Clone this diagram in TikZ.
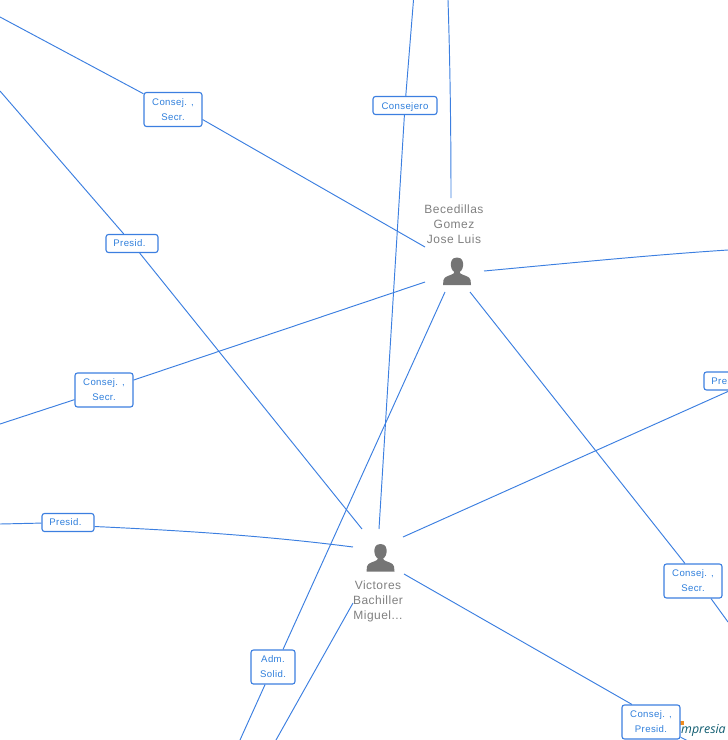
\documentclass[tikz,border=0pt]{standalone}
\usepackage{fontspec}
\setmainfont{Liberation Sans}[LetterSpace=4]
\newfontfamily\logofont{Open Sans}
\definecolor{edgeblue}{HTML}{3C7FE0}
\definecolor{labelblue}{HTML}{2F7FDC}
\definecolor{persongrey}{HTML}{757575}
\definecolor{nametext}{HTML}{808080}
\definecolor{logoteal}{HTML}{0F5C70}
\definecolor{logoorange}{HTML}{F28C1E}
\tikzset{
  rel/.style={draw=edgeblue,line width=0.95pt},
  lab/.style={draw=edgeblue,line width=1.1pt,rounded corners=2.5pt,fill=white,text=labelblue,
    font=\fontsize{9.6}{15}\selectfont,align=center,inner sep=0pt},
  personname/.style={text=nametext,font=\fontsize{12}{15}\selectfont,align=center,inner sep=0pt}
}
\newcommand{\personicon}[1]{%
  \fill[persongrey,shift={(#1)}]
    (-2.5,-3) .. controls (-2.5,0) and (-1.5,1) .. (-3.5,2.5)
    .. controls (-6,4.5) and (-13,5) .. (-13.5,9)
    .. controls (-14,11) and (-14,12) .. (-14,14) -- (14,14)
    .. controls (14,12) and (14,11) .. (13.5,9)
    .. controls (13,5) and (6,4.5) .. (3.5,2.5)
    .. controls (1.5,1) and (2.5,0) .. (2.5,-3) -- cycle
    (0,-13.5) .. controls (-5.5,-13.5) and (-6.5,-9) .. (-6,-5)
    .. controls (-5.5,-1) and (-3.5,1.5) .. (0,1.5)
    .. controls (3.5,1.5) and (5.5,-1) .. (6,-5)
    .. controls (6.5,-9) and (5.5,-13.5) .. (0,-13.5) -- cycle;}
\begin{document}
\begin{tikzpicture}[x=1pt,y=-1pt]
\useasboundingbox (0,0) rectangle (728,740);
\clip (0,0) rectangle (728,740);
% logo
\node[inner sep=0pt,anchor=base west,text=logoteal,font=\logofont\fontsize{12.4}{14}\itshape\selectfont] (logo) at (681,733) {mpresia};
\fill[logoorange] (680,721) rectangle (684,725);
% free ends
\coordinate (a1) at (0,17);
\coordinate (a2) at (425,247);
\coordinate (b1) at (0,91);
\coordinate (b2) at (362,529);
\coordinate (c1) at (413.5,0);
\coordinate (c2) at (379,529);
\coordinate (d1) at (448,0);
\coordinate (d2) at (451,198);
\coordinate (e1) at (484,271);
\coordinate (e2) at (728,250);
\coordinate (f1) at (425,282);
\coordinate (f2) at (0,424);
\coordinate (g1) at (445,292);
\coordinate (g2) at (240,740);
\coordinate (h1) at (470,292);
\coordinate (h2) at (728,622);
\coordinate (i1) at (403,537);
\coordinate (j1) at (353,547);
\coordinate (j2) at (0,524);
\coordinate (k1) at (404,574);
\coordinate (k2) at (688,741);
\coordinate (l1) at (353,603);
\coordinate (l2) at (276,740);
% labels
\node[lab,minimum width=58pt,minimum height=34pt] (lconsA) at (173,109.5) {Consej. ,\\Secr.};
\node[lab,minimum width=52pt,minimum height=18pt] (lpresA) at (132,243.5) {Presid.\hspace{5pt}};
\node[lab,minimum width=64pt,minimum height=18pt,text height=8pt,text depth=0pt] (lconsero) at (405,105.5) {Consejero};
\node[lab,minimum width=58pt,minimum height=34pt] (lconsB) at (104,390) {Consej. ,\\Secr.};
\node[lab,minimum width=52pt,minimum height=18pt] (lpresB) at (68,522.5) {Presid.\hspace{5pt}};
\node[lab,minimum width=44pt,minimum height=34pt] (ladm) at (273,667) {Adm.\hspace{5pt}\\Solid.};
\node[lab,minimum width=58pt,minimum height=34pt] (lconsC) at (693,581) {Consej. ,\\Secr.};
\node[lab,minimum width=58pt,minimum height=34pt] (lconsD) at (651,722) {Consej. ,\\Presid.};
\node[lab,minimum width=52pt,minimum height=18pt] (lpresC) at (730,381) {Presid.\hspace{5pt}};
% connectors
\draw[rel] (a1) -- (lconsA);
\draw[rel] ([yshift=-10pt]lconsA.east) -- (a2);
\draw[rel] (b1) -- (lpresA);
\draw[rel] (lpresA) -- (b2);
\draw[rel] (c1) -- (lconsero);
\draw[rel] (lconsero) -- (c2);
\draw[rel] (d1) .. controls (450,60) and (451,130) .. (d2);
\draw[rel] (e1) .. controls (560,264) and (650,255) .. (e2);
\draw[rel] (f1) -- (lconsB);
\draw[rel] (lconsB) -- (f2);
\draw[rel] (g1) -- ([xshift=10pt]ladm.north);
\draw[rel] (ladm) -- (g2);
\draw[rel] (h1) -- ([xshift=-8pt]lconsC.north);
\draw[rel] ([xshift=18pt]lconsC.south) -- (h2);
\draw[rel] (i1) -- (lpresC.south);
\draw[rel] (j1) .. controls (260,535) and (170,530) .. ([yshift=-4pt]lpresB.east);
\draw[rel] (lpresB) -- (j2);
\draw[rel] (k1) -- ([xshift=-19pt]lconsD.north);
\draw[rel] (lconsD) -- (k2);
\draw[rel] (l1) -- (l2);
% persons
\personicon{457,271}
\personicon{380.5,557.5}
\node[personname] (becedillas) at (454,224.5) {Becedillas\\Gomez\\Jose Luis};
\node[personname] (victores) at (378,601.5) {Victores\\Bachiller\\Miguel...};
\end{tikzpicture}
\end{document}
